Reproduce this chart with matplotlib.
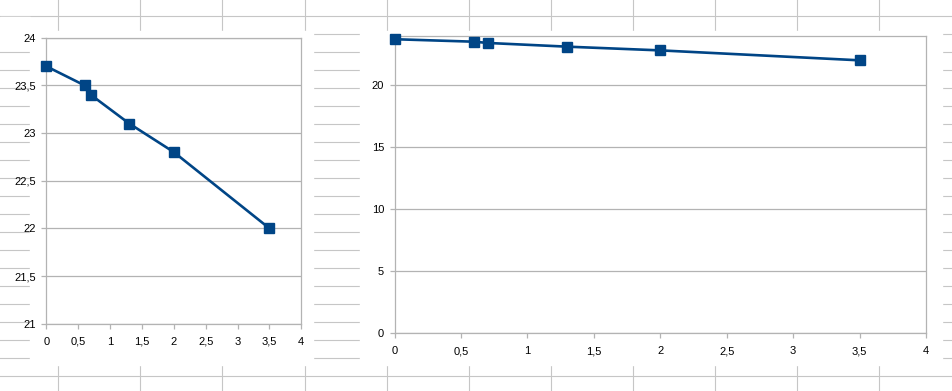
import matplotlib
matplotlib.use("Agg")
import matplotlib.pyplot as plt
from matplotlib.ticker import MultipleLocator, FuncFormatter
from matplotlib.patches import Rectangle
import numpy as np

# data
x_vals = [0, 0.6, 0.7, 1.3, 2, 3.5]
y_vals = [23.7, 23.5, 23.4, 23.1, 22.8, 22.0]

W, H = 953, 391
LINE_COL = "#004586"
GRID_COL = "#b3b3b3"
SHEET_COL = "#c6c6c6"

plt.rcParams['font.family'] = ['Liberation Sans', 'DejaVu Sans']
plt.rcParams['font.size'] = 8

fig = plt.figure(figsize=(W / 100, H / 100), dpi=100)
fig.patch.set_facecolor("white")

# spreadsheet cells behind the charts (pixel coordinates)
bg = fig.add_axes([0, 0, 1, 1], zorder=0)
bg.set_xlim(0, W)
bg.set_ylim(H, 0)
bg.axis("off")
row_y = 15.7 + 18.0 * np.arange(21)
col_x = 58.3 + 82.1 * np.arange(12)
for y in row_y:
    bg.plot([0, W], [y, y], color=SHEET_COL, lw=0.8)
for x in col_x:
    bg.plot([x, x], [0, H], color=SHEET_COL, lw=0.8)
# chart objects cover the cells
for (x0, x1) in [(30, 313.5), (360, 942)]:
    bg.add_patch(Rectangle((x0, 31), x1 - x0, 334, color="white", zorder=3))
bg.add_patch(Rectangle((0, 17), 30, 25, color="white", zorder=3))


def comma(v, pos):
    s = "%g" % v
    return s.replace(".", ",")


def make_ax(rect_px, ylim, ystep):
    x0, y0, x1, y1 = rect_px
    ax = fig.add_axes([x0 / W, 1 - y1 / H, (x1 - x0) / W, (y1 - y0) / H], zorder=2)
    ax.set_xlim(0, 4)
    ax.set_ylim(*ylim)
    ax.xaxis.set_major_locator(MultipleLocator(0.5))
    ax.yaxis.set_major_locator(MultipleLocator(ystep))
    ax.xaxis.set_major_formatter(FuncFormatter(comma))
    ax.yaxis.set_major_formatter(FuncFormatter(comma))
    ax.grid(axis="y", color=GRID_COL, lw=0.9)
    ax.set_axisbelow(True)
    for sp in ax.spines.values():
        sp.set_color(GRID_COL)
        sp.set_linewidth(0.9)
    ax.tick_params(axis="both", color=GRID_COL, length=3.5, width=0.9,
                   labelcolor="black", labelsize=8)
    ax.tick_params(axis="x", pad=6)
    ax.tick_params(axis="y", pad=4)
    ax.plot(x_vals, y_vals, color=LINE_COL, lw=1.9, marker="s", markersize=7.5,
            markerfacecolor=LINE_COL, markeredgecolor=LINE_COL, clip_on=False, zorder=5)
    return ax


ax1 = make_ax((46.3, 37.7, 301.3, 323.7), (21, 24), 0.5)
ax2 = make_ax((394.6, 35.5, 926, 333.3), (0, 24), 5)
ax2.set_yticks([0, 5, 10, 15, 20])

fig.savefig("out.png", dpi=100, facecolor="white")
